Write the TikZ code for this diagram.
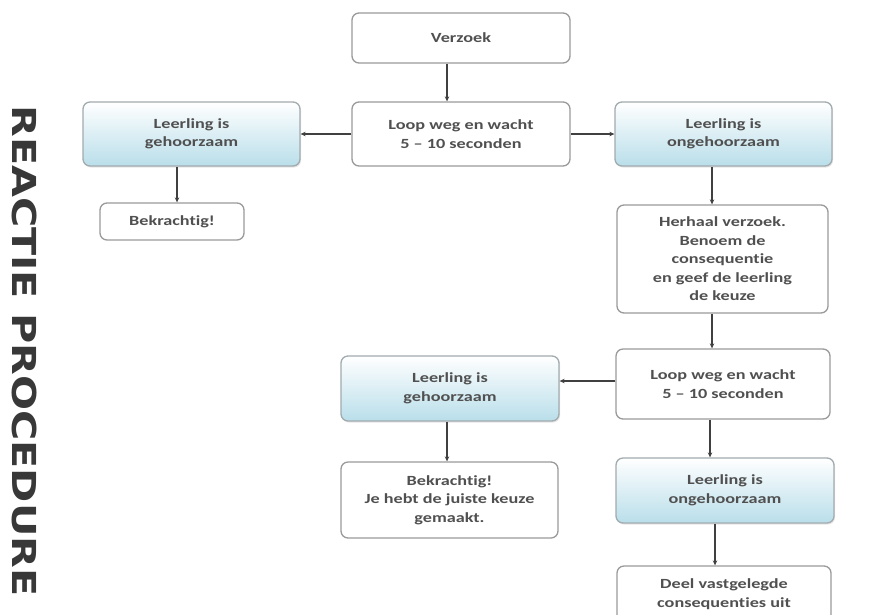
\documentclass[tikz,border=0pt]{standalone}
\usepackage{fontspec}
\setmainfont{Carlito}[FakeStretch=1.3, Ligatures=NoCommon]
\newfontfamily\titlefont{DejaVu Sans}[FakeStretch=1.25]
\usepackage{tikz}
\usetikzlibrary{arrows.meta, shadows}

\definecolor{boxline}{HTML}{9A9A9A}
\definecolor{boxtext}{HTML}{505050}
\definecolor{pupilblue}{HTML}{B9DEEA}

\begin{document}
\begin{tikzpicture}[x=1pt, y=-1pt,
  box/.style={draw=boxline, line width=1.3pt, rounded corners=7pt, fill=white,
    inner sep=0pt, align=center, text=boxtext,
    font=\bfseries\fontsize{14}{18.5}\selectfont},
  pupil/.style={box, draw=boxline!75!pupilblue, top color=white, bottom color=pupilblue,
    drop shadow={opacity=0.2, shadow xshift=1pt, shadow yshift=-1.5pt}},
  arr/.style={-{Stealth[length=5pt, width=4.5pt]}, line width=1.1pt, draw=black!75}]

  \useasboundingbox (0,0) rectangle (869,614);

  \node[rotate=-90, text=black!78, font=\titlefont\bfseries\fontsize{33}{33}\selectfont]
    (title) at (25,351) {REACTIE PROCEDURE};

  % eerste ronde
  \node[box, minimum width=218pt, minimum height=50pt] (verzoek) at (461,38) {Verzoek};
  \node[box, minimum width=218pt, minimum height=64pt] (loopA) at (461,134) {Loop weg en wacht\\5 -- 10 seconden};
  \node[pupil, minimum width=217pt, minimum height=64pt] (gehA) at (191.5,134) {Leerling is\\gehoorzaam};
  \node[pupil, minimum width=217pt, minimum height=64pt] (ongehA) at (723.5,134) {Leerling is\\ongehoorzaam};
  \node[box, minimum width=144pt, minimum height=37pt] (bekrA) at (172,221.5) {Bekrachtig!};

  % tweede ronde
  \node[box, minimum width=211pt, minimum height=108pt] (herhaal) at (722.5,259)
    {Herhaal verzoek.\\Benoem de\\consequentie\\en geef de leerling\\de keuze};
  \node[box, minimum width=214pt, minimum height=70pt] (loopB) at (723,384) {Loop weg en wacht\\5 -- 10 seconden};
  \node[pupil, minimum width=218pt, minimum height=65pt] (gehB) at (450,388.5) {Leerling is\\gehoorzaam};
  \node[box, minimum width=217pt, minimum height=76pt] (bekrB) at (449.5,500)
    {Bekrachtig!\\Je hebt de juiste keuze\\gemaakt.};
  \node[pupil, minimum width=218pt, minimum height=65pt] (ongehB) at (725,490.5) {Leerling is\\ongehoorzaam};
  \node[box, minimum width=214pt, minimum height=56pt] (deel) at (724,594) {Deel vastgelegde\\consequenties uit};

  \draw[arr] ([xshift=-14pt]verzoek.south) -- ([xshift=-14pt]verzoek.south |- loopA.north);
  \draw[arr] (loopA.west) -- (gehA.east);
  \draw[arr] (loopA.east) -- (ongehA.west);
  \draw[arr] ([xshift=-14.5pt]gehA.south) -- ([xshift=-14.5pt]gehA.south |- bekrA.north);
  \draw[arr] ([xshift=-11.5pt]ongehA.south) -- ([xshift=-11.5pt]ongehA.south |- herhaal.north);
  \draw[arr] ([xshift=-10.5pt]herhaal.south) -- ([xshift=-10.5pt]herhaal.south |- loopB.north);
  \draw[arr] ([yshift=3pt]loopB.west) -- ([yshift=3pt]loopB.west -| gehB.east);
  \draw[arr] ([xshift=-3pt]gehB.south) -- ([xshift=-3pt]gehB.south |- bekrB.north);
  \draw[arr] ([xshift=-13pt]loopB.south) -- ([xshift=-13pt]loopB.south |- ongehB.north);
  \draw[arr] ([xshift=-10pt]ongehB.south) -- ([xshift=-10pt]ongehB.south |- deel.north);
\end{tikzpicture}
\end{document}
